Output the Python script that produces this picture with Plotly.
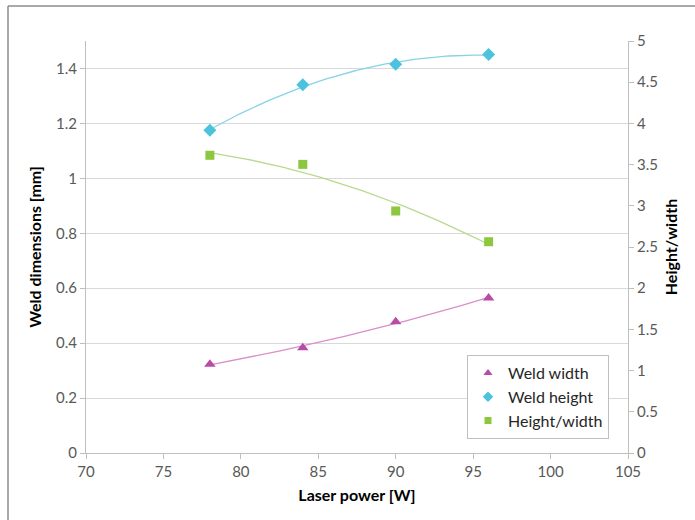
import numpy as np
import plotly.graph_objects as go

# Measured weld geometry against laser power
laser_power = [78, 84, 90, 96]
weld_width = [0.323, 0.383, 0.478, 0.564]
weld_height = [1.175, 1.341, 1.415, 1.451]
height_width = [3.613, 3.503, 2.937, 2.564]

x_ticks = [70, 75, 80, 85, 90, 95, 100, 105]
left_ticks = [0, 0.2, 0.4, 0.6, 0.8, 1.0, 1.2, 1.4]
right_ticks = [0, 0.5, 1, 1.5, 2, 2.5, 3, 3.5, 4, 4.5, 5]

W, H = 695, 520
ML, MR, MT, MB = 86, 67, 41, 67

FONT = "Lato"
TICK_COLOR = "#595959"
GRID = "#d9d9d9"
AXIS = "#bfbfbf"

series = [
    dict(name="Weld width", y=weld_width, axis="y", symbol="triangle-up",
         color="#b84ba7", line="#d98fc9", size=10, lsize=8),
    dict(name="Weld height", y=weld_height, axis="y", symbol="diamond",
         color="#4bc3dc", line="#86d3e6", size=10, lsize=8),
    dict(name="Height/width", y=height_width, axis="y2", symbol="square",
         color="#8dc63f", line="#b7da8f", size=9, lsize=7),
]

fig = go.Figure()

# second-order polynomial trendlines through each series
xs = np.linspace(min(laser_power), max(laser_power), 120)
for s in series:
    coef = np.polyfit(laser_power, s["y"], 2)
    fig.add_trace(go.Scatter(
        x=xs, y=np.polyval(coef, xs), mode="lines", yaxis=s["axis"],
        line=dict(color=s["line"], width=1.3), showlegend=False,
        hoverinfo="skip"))

for s in series:
    fig.add_trace(go.Scatter(
        x=laser_power, y=s["y"], mode="markers", name=s["name"],
        yaxis=s["axis"], showlegend=False,
        marker=dict(symbol=s["symbol"], size=s["size"], color=s["color"],
                    line=dict(width=0))))

# legend entries with smaller symbols
for s in series:
    fig.add_trace(go.Scatter(
        x=[None], y=[None], mode="markers", name=s["name"], yaxis=s["axis"],
        marker=dict(symbol=s["symbol"], size=s["lsize"], color=s["color"],
                    line=dict(width=0))))

tickfont = dict(family=FONT, size=15, color=TICK_COLOR)
titlefont = dict(family=FONT, size=16, color="#000000")

fig.update_layout(
    width=W, height=H,
    margin=dict(l=ML, r=MR, t=MT, b=MB),
    paper_bgcolor="white", plot_bgcolor="white",
    font=dict(family=FONT),
    xaxis=dict(
        range=[70, 105], tickvals=x_ticks, ticktext=[str(v) for v in x_ticks],
        showgrid=False, zeroline=False, showline=True, linecolor=AXIS,
        linewidth=1, ticks="outside", ticklen=5, tickcolor=AXIS,
        tickfont=tickfont,
        title=dict(text="<b>Laser power [W]</b>", font=titlefont, standoff=10),
    ),
    yaxis=dict(
        range=[0, 1.5], tickvals=left_ticks,
        ticktext=["0", "0.2", "0.4", "0.6", "0.8", "1", "1.2", "1.4"],
        showgrid=True, gridcolor=GRID, gridwidth=1, zeroline=False,
        showline=True, linecolor=AXIS, linewidth=1,
        ticks="outside", ticklen=5, tickcolor=AXIS, tickfont=tickfont,
        title=dict(text="<b>Weld dimensions [mm]</b>", font=titlefont,
                   standoff=10),
    ),
    yaxis2=dict(
        range=[0, 5], tickvals=right_ticks,
        ticktext=["0", "0.5", "1", "1.5", "2", "2.5", "3", "3.5", "4",
                  "4.5", "5"],
        overlaying="y", side="right", showgrid=False, zeroline=False,
        showline=True, linecolor=AXIS, linewidth=1,
        ticks="outside", ticklen=5, tickcolor=AXIS, tickfont=tickfont,
        title=dict(text="<b>Height/width</b>", font=titlefont, standoff=8),
    ),
    legend=dict(
        x=(467 - ML) / (W - ML - MR), y=(H - MB - 355) / (H - MB - MT),
        xanchor="left", yanchor="top",
        bordercolor="#bfbfbf", borderwidth=1, bgcolor="white",
        font=dict(family=FONT, size=16, color="#262626"),
        itemwidth=30, tracegroupgap=2,
    ),
    showlegend=True,
)

# thin frame around the chart
pw, ph = W - ML - MR, H - MB - MT
def px(x):
    return (x - ML) / pw
def py(y):
    return (H - MB - y) / ph
fig.add_shape(type="line", xref="paper", yref="paper",
              x0=px(8), x1=px(8), y0=py(6), y1=py(H),
              line=dict(color="#8c8c8c", width=1.5))
fig.add_shape(type="line", xref="paper", yref="paper",
              x0=px(8), x1=px(W), y0=py(6), y1=py(6),
              line=dict(color="#8c8c8c", width=1.5))

fig.write_html("out.html")
